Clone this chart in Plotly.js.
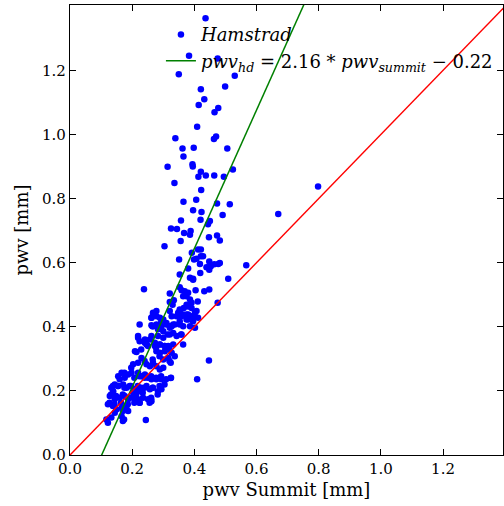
<!DOCTYPE html>
<html>
<head>
<meta charset="utf-8">
<script src="https://cdn.plot.ly/plotly-3.0.1.min.js"></script>
<style>html,body{margin:0;padding:0;background:#fff;}#chart{width:504px;height:506px;}</style>
</head>
<body>
<div id="chart"></div>
<script>
// Hamstrad pwv (y) vs Summit pwv (x)
const pwvSummit = [
0.436,0.383,0.475,0.350,0.530,0.421,0.499,0.432,0.414,0.477,0.465,0.409,0.339,0.470,0.463,0.362,0.398,0.506,0.365,0.314,
0.394,0.395,0.421,0.437,0.413,0.464,0.495,0.524,0.336,0.422,0.365,0.406,0.473,0.514,0.396,0.423,0.491,0.670,0.357,0.420,
0.450,0.444,0.325,0.344,0.367,0.388,0.386,0.473,0.447,0.482,0.304,0.356,0.392,0.412,0.421,0.421,0.428,0.407,0.399,0.351,
0.448,0.446,0.453,0.464,0.477,0.482,0.448,0.439,0.418,0.567,0.380,0.419,0.353,0.396,0.509,0.238,0.353,0.359,0.369,0.380,
0.404,0.432,0.448,0.321,0.364,0.375,0.334,0.321,0.330,0.386,0.391,0.380,0.375,0.411,0.475,0.366,0.353,0.348,0.359,0.375,
0.391,0.402,0.278,0.267,0.262,0.412,0.396,0.380,0.224,0.300,0.310,0.294,0.321,0.332,0.353,0.364,0.386,0.402,0.265,0.262,
0.294,0.327,0.332,0.314,0.300,0.283,0.357,0.364,0.219,0.224,0.251,0.241,0.257,0.273,0.289,0.316,0.305,0.289,0.278,0.214,
0.327,0.337,0.316,0.300,0.324,0.447,0.230,0.219,0.203,0.246,0.257,0.267,0.278,0.289,0.300,0.166,0.155,0.160,0.176,0.187,
0.198,0.219,0.230,0.241,0.251,0.262,0.278,0.294,0.324,0.409,0.144,0.133,0.139,0.155,0.171,0.182,0.192,0.208,0.203,0.219,
0.230,0.246,0.257,0.267,0.283,0.294,0.128,0.144,0.160,0.176,0.187,0.203,0.219,0.235,0.251,0.262,0.224,0.122,0.138,0.149,
0.166,0.182,0.187,0.166,0.144,0.117,0.122,0.133,0.174,0.244,0.798,
0.209,0.229,0.277,0.304,0.320,0.288,0.266,0.240,0.197,0.320,0.175,0.207,0.223,0.240,0.261,0.277,0.293,0.309,0.325,0.138,
0.154,0.175,0.196,0.218,0.240,0.266,0.288,0.304,0.132,0.148,0.170,0.191,0.213,0.234,0.261,0.282,0.127,0.143,0.164,0.186,
0.207,0.224,0.256,0.261,0.175,0.170,0.170,0.386,0.396,0.380,0.391,0.353,0.364,0.343,0.380,0.402,0.407,0.267,0.278,0.262,
0.289,0.321,0.327,0.267,0.278,0.294,0.310,0.321,0.337,0.353,0.375,0.391,0.219,0.241,0.262,0.283,0.300,0.321,0.343,0.359,
0.246,0.273,0.289,0.305,0.332
];
const pwvHamstrad = [
1.363,1.246,1.237,1.188,1.183,1.141,1.150,1.110,1.092,1.083,1.069,1.024,0.988,0.994,0.986,0.956,0.959,0.956,0.931,0.899,
0.907,0.900,0.884,0.872,0.868,0.872,0.868,0.891,0.849,0.827,0.790,0.796,0.785,0.782,0.764,0.758,0.749,0.752,0.732,0.734,
0.730,0.720,0.707,0.705,0.693,0.699,0.687,0.685,0.679,0.669,0.651,0.668,0.631,0.641,0.641,0.620,0.620,0.612,0.610,0.610,
0.604,0.586,0.589,0.595,0.596,0.599,0.578,0.586,0.596,0.592,0.582,0.568,0.563,0.550,0.550,0.517,0.523,0.514,0.511,0.506,
0.514,0.511,0.516,0.504,0.495,0.495,0.483,0.477,0.469,0.485,0.475,0.464,0.469,0.479,0.475,0.459,0.454,0.444,0.433,0.438,
0.433,0.446,0.449,0.438,0.428,0.428,0.417,0.423,0.407,0.423,0.412,0.402,0.402,0.407,0.407,0.402,0.402,0.397,0.402,0.405,
0.417,0.402,0.381,0.376,0.386,0.392,0.376,0.345,0.366,0.355,0.340,0.350,0.360,0.350,0.345,0.340,0.324,0.319,0.324,0.321,
0.319,0.308,0.303,0.298,0.288,0.295,0.303,0.288,0.283,0.283,0.277,0.288,0.277,0.267,0.272,0.257,0.246,0.236,0.241,0.251,
0.257,0.257,0.246,0.251,0.241,0.236,0.236,0.236,0.240,0.236,0.220,0.210,0.199,0.215,0.220,0.210,0.215,0.205,0.194,0.199,
0.210,0.215,0.205,0.210,0.199,0.205,0.184,0.174,0.179,0.184,0.174,0.179,0.174,0.179,0.174,0.168,0.163,0.158,0.153,0.142,
0.147,0.153,0.137,0.121,0.132,0.111,0.101,0.117,0.111,0.109,0.838,
0.324,0.329,0.335,0.340,0.329,0.308,0.298,0.293,0.272,0.293,0.257,0.241,0.246,0.241,0.246,0.241,0.246,0.236,0.241,0.215,
0.215,0.210,0.215,0.215,0.210,0.210,0.215,0.220,0.189,0.184,0.189,0.179,0.189,0.194,0.179,0.189,0.163,0.158,0.163,0.158,
0.163,0.163,0.163,0.174,0.148,0.137,0.106,0.553,0.547,0.464,0.459,0.449,0.438,0.433,0.438,0.433,0.449,0.444,0.433,0.428,
0.428,0.449,0.433,0.402,0.407,0.412,0.407,0.397,0.407,0.417,0.423,0.423,0.371,0.360,0.371,0.371,0.366,0.376,0.371,0.376,
0.345,0.340,0.345,0.340,0.345
];
// fit line parameters and one-to-one line
const fitSlope = 2.16;
const fitIntercept = -0.22;
const lineX = [0, 1.4];
const fitY = lineX.map(v => fitSlope * v + fitIntercept);
const oneToOneY = lineX.slice();
const xTickVals = [0.0, 0.2, 0.4, 0.6, 0.8, 1.0, 1.2];
const yTickVals = [0.0, 0.2, 0.4, 0.6, 0.8, 1.0, 1.2];

const serif = "DejaVu Serif, Liberation Serif, serif";
const traces = [
  {x: pwvSummit, y: pwvHamstrad, type: 'scatter', mode: 'markers',
   name: '<i>Hamstrad</i>', marker: {color: '#0000ff', size: 6.5, line: {width: 0}}, cliponaxis: true},
  {x: lineX, y: fitY, type: 'scatter', mode: 'lines',
   name: '<i>pwv</i><sub><i>hd</i></sub> = 2.16 * <i>pwv</i><sub><i>summit</i></sub> − 0.22',
   line: {color: '#008000', width: 1.5}},
  {x: lineX, y: oneToOneY, type: 'scatter', mode: 'lines', showlegend: false,
   line: {color: '#ff0000', width: 1.5}}
];
const axisCommon = {
  showline: true, linecolor: '#000', linewidth: 1.2, mirror: 'ticks',
  ticks: 'inside', ticklen: 6, tickwidth: 1, tickcolor: '#000',
  showgrid: false, zeroline: false, tickformat: '.1f',
  tickfont: {family: serif, size: 15, color: '#000'}
};
const layout = {
  width: 504, height: 506,
  margin: {l: 70, r: 1, t: 5, b: 51},
  paper_bgcolor: '#fff', plot_bgcolor: '#fff',
  xaxis: Object.assign({}, axisCommon, {range: [0, 1.393], tickvals: xTickVals,
    title: {text: 'pwv Summit [mm]', font: {family: serif, size: 18, color: '#000'}, standoff: 6}}),
  yaxis: Object.assign({}, axisCommon, {range: [0, 1.404], tickvals: yTickVals,
    title: {text: 'pwv [mm]', font: {family: serif, size: 18, color: '#000'}, standoff: 8}}),
  showlegend: true,
  legend: {x: 0.21, y: 0.975, xanchor: 'left', yanchor: 'top', bgcolor: 'rgba(0,0,0,0)',
    borderwidth: 0, font: {family: serif, size: 18, color: '#000'}, tracegroupgap: 0}
};
Plotly.newPlot('chart', traces, layout, {displayModeBar: false, staticPlot: true});
</script>
</body>
</html>
